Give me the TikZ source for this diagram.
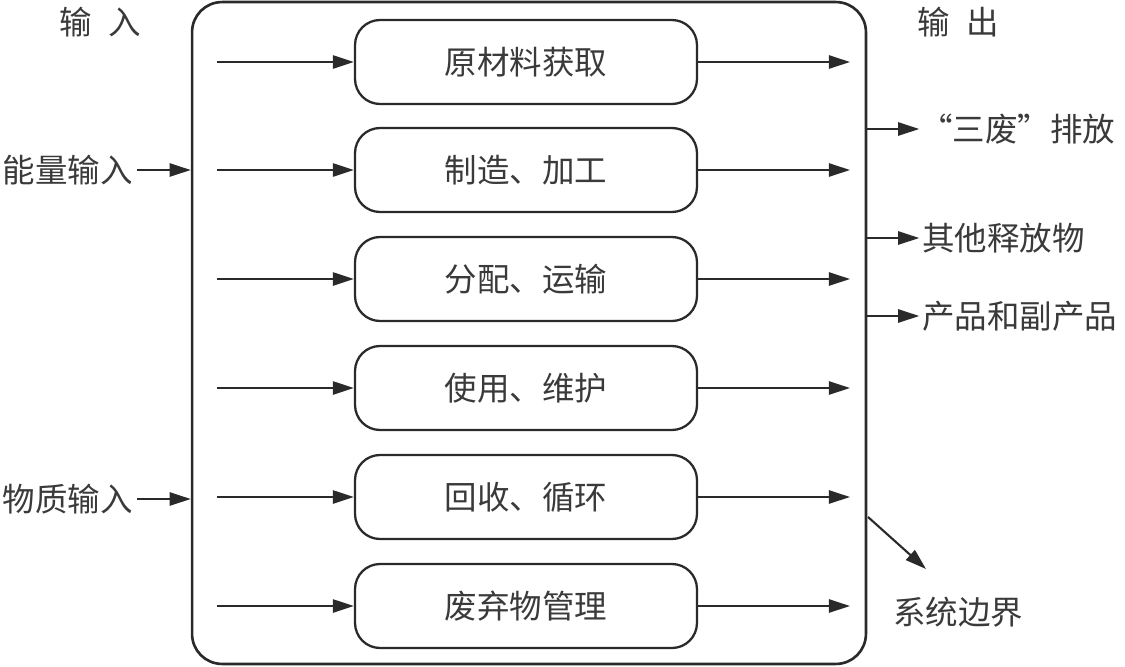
\documentclass[tikz,border=0pt]{standalone}
\usepackage{fontspec}
\setmainfont{Noto Sans CJK SC}
\usetikzlibrary{arrows.meta}
\definecolor{ink}{HTML}{2A2A2A}
\definecolor{txt}{HTML}{3A3A3A}
\begin{document}
\begin{tikzpicture}[x=0.02cm,y=-0.02cm,
  stage/.style={draw=ink,line width=1.3pt,rounded corners=0.5cm,minimum width=6.84cm,minimum height=1.68cm,inner sep=0pt,text=txt,font=\fontsize{18.5}{22}\selectfont},
  lbl/.style={text=txt,font=\fontsize{18.5}{22}\selectfont,inner sep=0pt},
  flow/.style={draw=ink,line width=1.2pt,arrows={-Triangle[length=12pt,width=7.5pt,fill=ink]}}]
\useasboundingbox (0,0) rectangle (1125,666);
\node[draw=ink,line width=1.5pt,rounded corners=0.6cm,minimum width=13.48cm,minimum height=13.24cm,inner sep=0pt] (sys) at (529,333) {};
\foreach \n/\y/\t in {s1/62/原材料获取,s2/170/制造、加工,s3/279/分配、运输,s4/388/使用、维护,s5/497/回收、循环,s6/606/废弃物管理}{
  \node[stage] (\n) at (526,\y) {\t};
  \coordinate (\n in) at (217,\y);
  \coordinate (\n out) at (850,\y);
  \draw[flow] (\n in) -- (\n.west);
  \draw[flow] (\n.east) -- (\n out);
}
\node[lbl] (tin) at (100,22) {输\hspace{0.5em}入};
\node[lbl] (tout) at (958,22) {输\hspace{0.5em}出};
\node[lbl,anchor=east] (energy) at (133,170) {能量输入};
\node[lbl,anchor=east] (matter) at (133,499) {物质输入};
\draw[flow] (energy.east) ++(4,0) -- (sys.west |- energy.east);
\draw[flow] (matter.east) ++(4,0) -- (sys.west |- matter.east);
\node[lbl,anchor=west] (waste) at (920,129) {“三废”排放};
\node[lbl,anchor=west] (other) at (922,238) {其他释放物};
\node[lbl,anchor=west] (prod) at (922,316) {产品和副产品};
\draw[flow] (sys.east |- waste.west) -- ++(52,0);
\draw[flow] (sys.east |- other.west) -- ++(52,0);
\draw[flow] (sys.east |- prod.west) -- ++(52,0);
\node[lbl] (bound) at (958,612) {系统边界};
\coordinate (bstart) at (868,517);
\coordinate (bend) at (926,569);
\draw[flow] (bstart) -- (bend);
\end{tikzpicture}
\end{document}
